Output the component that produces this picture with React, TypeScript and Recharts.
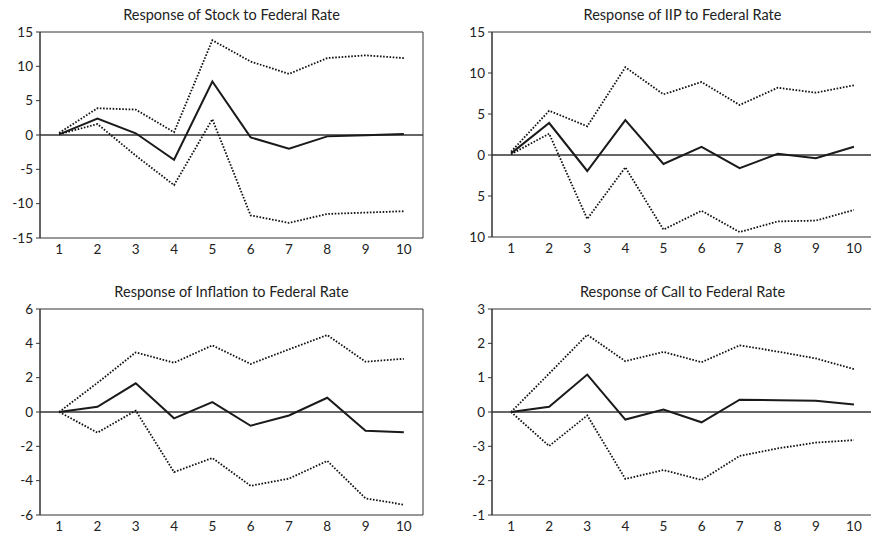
import React from "react";
import {
  LineChart,
  Line,
  XAxis,
  YAxis,
  ReferenceLine,
  ReferenceArea,
} from "recharts";

// impulse response periods
const periods = [1, 2, 3, 4, 5, 6, 7, 8, 9, 10];

const stockResp = [0.1, 2.4, 0.25, -3.6, 7.8, -0.35, -2.0, -0.2, -0.05, 0.15];
const stockUpper = [0.3, 3.9, 3.7, 0.4, 13.8, 10.7, 8.9, 11.2, 11.6, 11.2];
const stockLower = [0.1, 1.6, -3.0, -7.3, 2.3, -11.7, -12.8, -11.5, -11.3, -11.1];

const iipResp = [0.2, 3.9, -1.95, 4.25, -1.1, 1.0, -1.6, 0.15, -0.4, 1.0];
const iipUpper = [0.4, 5.4, 3.5, 10.7, 7.4, 8.9, 6.1, 8.2, 7.6, 8.5];
const iipLower = [0.1, 2.6, -7.8, -1.5, -9.1, -6.8, -9.4, -8.1, -8.0, -6.7];

const inflResp = [0, 0.3, 1.67, -0.37, 0.58, -0.8, -0.2, 0.83, -1.09, -1.18];
const inflUpper = [0, 1.7, 3.47, 2.87, 3.88, 2.8, 3.65, 4.48, 2.93, 3.1];
const inflLower = [0, -1.2, 0.08, -3.5, -2.68, -4.3, -3.88, -2.85, -5.03, -5.4];

const callResp = [0, 0.15, 1.09, -0.22, 0.07, -0.3, 0.36, 0.34, 0.33, 0.22];
const callUpper = [0, 1.12, 2.25, 1.48, 1.75, 1.45, 1.94, 1.76, 1.56, 1.25];
const callLower = [0, -0.99, -0.1, -1.95, -1.69, -1.98, -1.28, -1.06, -0.89, -0.82];

// y ticks and the labels as printed in the source figure
const stockTicks = [-15, -10, -5, 0, 5, 10, 15];
const stockTickLabels = ["-15", "-10", "-5", "0", "5", "10", "15"];
const iipTicks = [-10, -5, 0, 5, 10, 15];
const iipTickLabels = ["10", "5", "0", "5", "10", "15"];
const inflTicks = [-6, -4, -2, 0, 2, 4, 6];
const inflTickLabels = ["-6", "-4", "-2", "0", "2", "4", "6"];
const callTicks = [-3, -2, -1, 0, 1, 2, 3];
const callTickLabels = ["-1", "-2", "-3", "0", "1", "2", "3"];

const bandTicks = [0.5, 1.5, 2.5, 3.5, 4.5, 5.5, 6.5, 7.5, 8.5, 9.5, 10.5];

const build = (resp: number[], up: number[], lo: number[]) =>
  periods.map((p, i) => ({ period: p, resp: resp[i], upper: up[i], lower: lo[i] }));

type PanelProps = {
  title: string;
  data: any[];
  ticks: number[];
  tickLabels: string[];
  left: number;
  top: number;
  width: number;
  height: number;
  marginTop: number;
  marginRight: number;
  yWidth: number;
};

const Panel: React.FC<PanelProps> = ({
  title, data, ticks, tickLabels, left, top, width, height, marginTop, marginRight, yWidth,
}) => {
  const yMin = ticks[0];
  const yMax = ticks[ticks.length - 1];
  const plotLeft = yWidth;
  const plotRight = width - marginRight;
  return (
    <div style={{ position: "absolute", left, top, width, height }}>
      <div
        style={{
          position: "absolute",
          left: plotLeft,
          width: plotRight - plotLeft,
          top: marginTop - 26,
          textAlign: "center",
          fontSize: 14.5,
          color: "#222",
        }}
      >
        {title}
      </div>
      <LineChart
        width={width}
        height={height}
        data={data}
        margin={{ top: marginTop, right: marginRight, left: 0, bottom: 0 }}
      >
        <XAxis
          xAxisId="band"
          dataKey="period"
          type="number"
          domain={[0.5, 10.5]}
          ticks={bandTicks}
          tick={false}
          tickSize={4}
          height={0}
          stroke="#333"
        />
        <XAxis
          xAxisId="lab"
          dataKey="period"
          type="number"
          domain={[0.5, 10.5]}
          ticks={periods}
          axisLine={false}
          tickLine={false}
          tickSize={3}
          tickMargin={3}
          height={22}
          tick={{ fill: "#222", fontSize: 13.5 }}
          interval={0}
        />
        <YAxis
          type="number"
          domain={[yMin, yMax]}
          ticks={ticks}
          width={yWidth}
          interval={0}
          tickSize={4}
          tickMargin={3}
          stroke="#333"
          tick={{ fill: "#222", fontSize: 13.5 }}
          tickFormatter={(v: number) => tickLabels[ticks.indexOf(v)] ?? String(v)}
        />
        <ReferenceArea
          xAxisId="lab"
          x1={0.5}
          x2={10.5}
          y1={yMin}
          y2={yMax}
          fill="none"
          stroke="#333"
          strokeWidth={1}
          ifOverflow="visible"
        />
        <ReferenceLine xAxisId="lab" y={0} stroke="#333" strokeWidth={1.3} />
        <Line
          xAxisId="lab"
          dataKey="upper"
          stroke="#111"
          strokeWidth={1.8}
          strokeDasharray="1.6 1.6"
          dot={false}
          isAnimationActive={false}
        />
        <Line
          xAxisId="lab"
          dataKey="lower"
          stroke="#111"
          strokeWidth={1.8}
          strokeDasharray="1.6 1.6"
          dot={false}
          isAnimationActive={false}
        />
        <Line
          xAxisId="lab"
          dataKey="resp"
          stroke="#1a1a1a"
          strokeWidth={2}
          dot={false}
          isAnimationActive={false}
        />
      </LineChart>
    </div>
  );
};

export default function App() {
  return (
    <div
      style={{
        position: "absolute",
        left: 0,
        top: 0,
        width: 871,
        height: 535,
        overflow: "hidden",
        background: "#fff",
        fontFamily: "Lato, 'Open Sans', sans-serif",
      }}
    >
      <Panel
        title="Response of Stock to Federal Rate"
        data={build(stockResp, stockUpper, stockLower)}
        ticks={stockTicks}
        tickLabels={stockTickLabels}
        left={0}
        top={0}
        width={440}
        height={260}
        marginTop={32}
        marginRight={17}
        yWidth={40}
      />
      <Panel
        title="Response of IIP to Federal Rate"
        data={build(iipResp, iipUpper, iipLower)}
        ticks={iipTicks}
        tickLabels={iipTickLabels}
        left={430}
        top={0}
        width={450}
        height={259}
        marginTop={32}
        marginRight={7}
        yWidth={62}
      />
      <Panel
        title="Response of Inflation to Federal Rate"
        data={build(inflResp, inflUpper, inflLower)}
        ticks={inflTicks}
        tickLabels={inflTickLabels}
        left={0}
        top={260}
        width={440}
        height={277}
        marginTop={49}
        marginRight={17}
        yWidth={40}
      />
      <Panel
        title="Response of Call to Federal Rate"
        data={build(callResp, callUpper, callLower)}
        ticks={callTicks}
        tickLabels={callTickLabels}
        left={430}
        top={260}
        width={450}
        height={277}
        marginTop={49}
        marginRight={7}
        yWidth={62}
      />
    </div>
  );
}
